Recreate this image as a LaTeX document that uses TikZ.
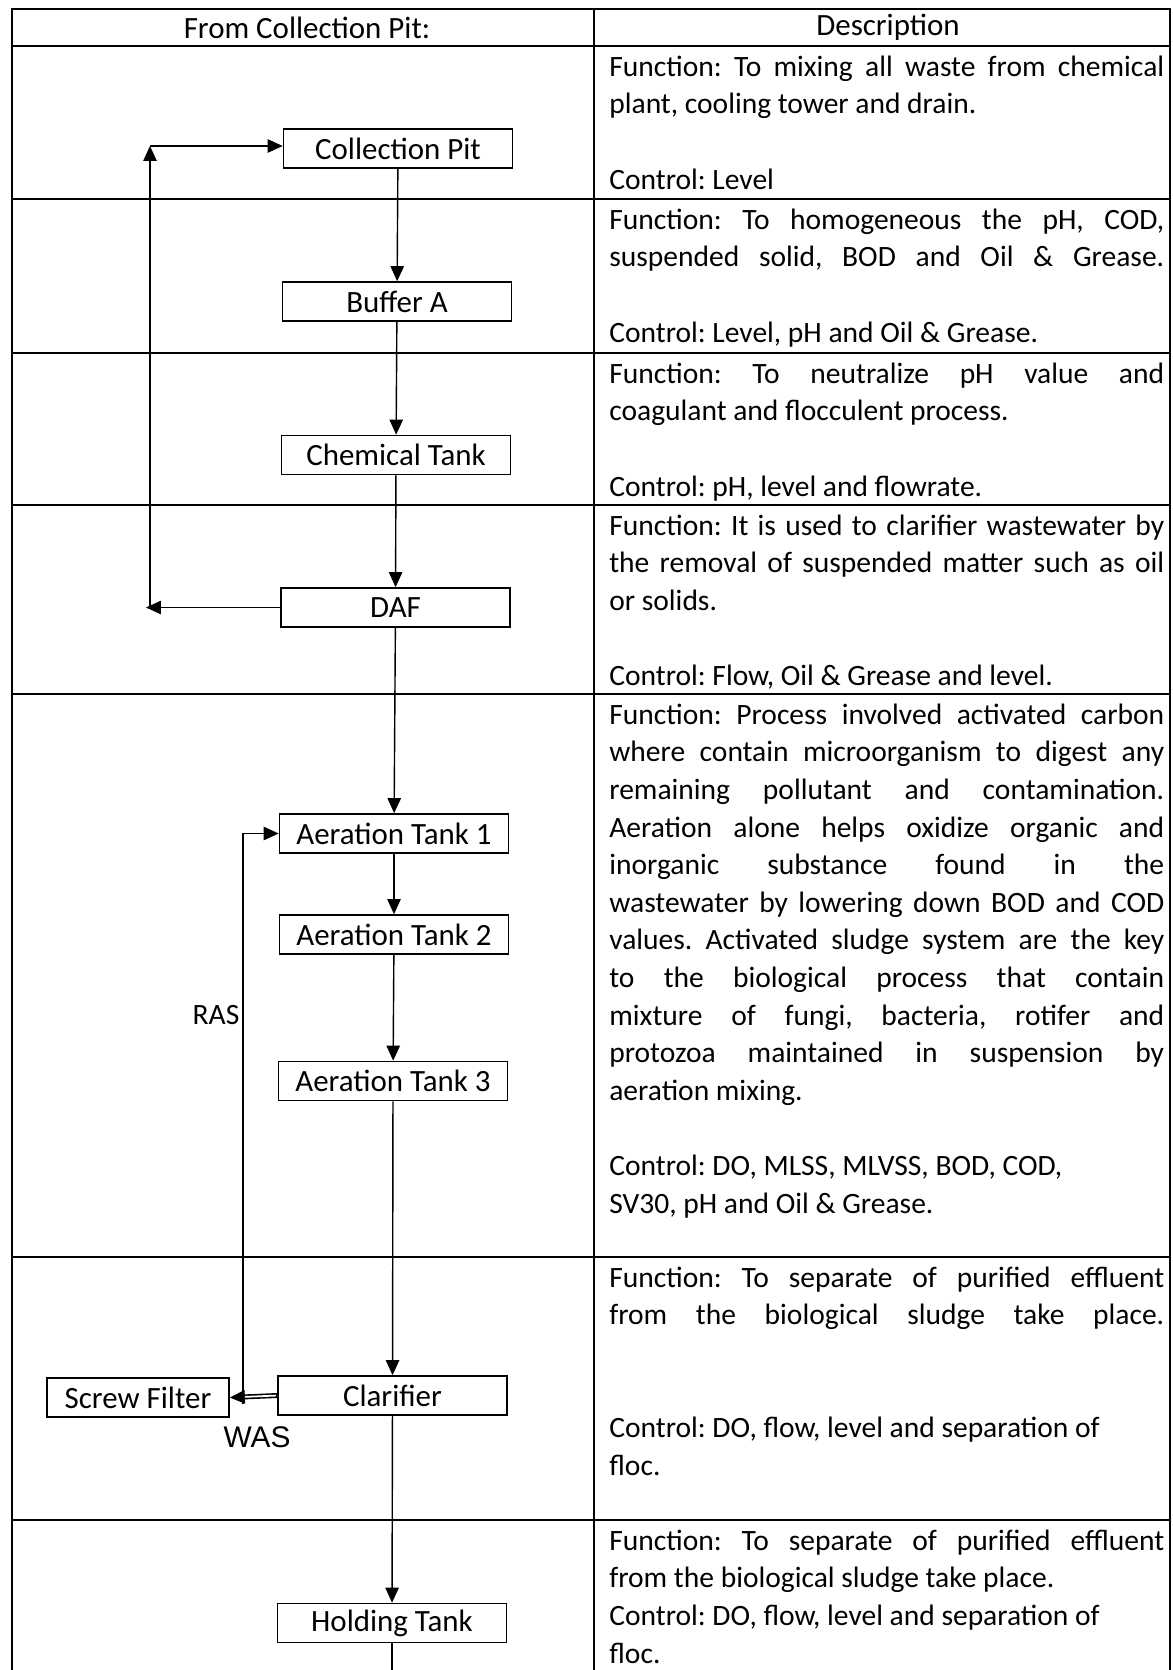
\documentclass[tikz,border=0pt]{standalone}
\usepackage{fontspec}
\setmainfont{Carlito}
\newfontfamily\wasfont{Liberation Sans}
\usetikzlibrary{arrows.meta}

\begin{document}
\begin{tikzpicture}[x=0.02cm, y=-0.02cm,
      every node/.style = {font=\fontsize{16.8pt}{21.4pt}\selectfont\frenchspacing},
      head/.style  = {font=\fontsize{17.6pt}{21.4pt}\selectfont},
      unit/.style  = {draw, line width=1pt, minimum width=4.58cm,
                      minimum height=0.78cm, inner sep=0pt,
                      font=\fontsize{17.6pt}{21.4pt}\selectfont},
      arrow/.style = {-{Triangle[length=0.3cm, width=0.27cm, line width=0.5pt]},
                      line width=0.8pt},
      wasline/.style = {-{Triangle[length=0.3cm, width=0.27cm, line width=0.5pt]},
                        line width=0.1cm},
      wasgap/.style  = {white, line width=0.035cm, shorten >=0.3cm, shorten <=0.7pt},
      grid/.style  = {line width=1pt},
      desc/.style  = {anchor=north west, inner sep=0pt, text width=11.1cm, align=justify,
                      execute at begin node={\parindent=0pt\noindent
                        \tolerance=10000\hyphenpenalty=10000\strut}}
    ]
    \useasboundingbox (0,0) rectangle (1173,1670);

    % table
    \draw[grid] (12,1670) -- (12,9) -- (1170,9) -- (1170,1670);
    \draw[grid] (594,9) -- (594,1670);
    \draw[grid] (12,46) -- (1170,46)   (12,199) -- (1170,199)
                (12,353) -- (1170,353) (12,505) -- (1170,505)
                (12,694) -- (1170,694) (12,1257) -- (1170,1257)
                (12,1520) -- (1170,1520);

    \node[head] (hleft)  at (307,27.5) {From Collection Pit:};
    \node[head] (hright) at (888,27.5) {Description};

    % process units
    \node[unit] (pit)    at (398,148.5)   {Collection Pit};
    \node[unit] (buffer) at (397,301.5)   {Buffer A};
    \node[unit] (chem)   at (396,455)     {Chemical Tank};
    \node[unit] (daf)    at (395.5,607.5) {DAF};
    \node[unit] (aer1)   at (394,833.5)   {Aeration Tank 1};
    \node[unit] (aer2)   at (394,934.5)   {Aeration Tank 2};
    \node[unit] (aer3)   at (393,1081)    {Aeration Tank 3};
    \node[unit] (clar)   at (392.5,1395.5){Clarifier};
    \node[unit, minimum width=3.64cm] (screw) at (138,1397.5) {Screw Filter};
    \node[unit] (hold)   at (392,1623)    {Holding Tank};

    \coordinate (dafret)  at (146,607.5);
    \coordinate (loopbot) at (150,607.5);
    \coordinate (looptop) at (150,146);
    \coordinate (rasbot)  at (243,1404);
    \coordinate (outlet)  at (392,1670);

    \draw[arrow] (pit)    -- (buffer);
    \draw[arrow] (buffer) -- (chem);
    \draw[arrow] (chem)   -- (daf);
    \draw[arrow] (daf)    -- (aer1);
    \draw[arrow] (aer1)   -- (aer2);
    \draw[arrow] (aer2)   -- (aer3);
    \draw[arrow] (aer3)   -- (clar);
    \draw[arrow] (clar)   -- (hold);
    \draw[line width=0.8pt] (hold) -- (outlet);

    % return from DAF
    \draw[arrow] (daf) -- (dafret);
    \draw[arrow] (loopbot) -- (looptop);
    \draw[arrow] (looptop) -- (looptop -| pit.west);

    % sludge lines
    \draw[wasline] (clar.west) -- (screw.east);
    \draw[wasgap]  (clar.west) -- (screw.east);
    \draw[arrow] (rasbot) |- (aer1.west);
    \node (ras) at (216,1015) {RAS};
    \node[font={\wasfont\fontsize{17pt}{20pt}\selectfont}] (was) at (257,1437) {WAS};

    % descriptions
    \node[desc] (dpit) at (609,49.7) {Function: To mixing all waste from chemical\linebreak
      plant, cooling tower and drain.\\[21.4pt]
      Control: Level};
    \node[desc] (dbuffer) at (609,202.7) {Function: To homogeneous the pH, COD,\linebreak
      suspended solid, BOD and Oil \& Grease.\linebreak\mbox{}\\
      Control: Level, pH and Oil \& Grease.};
    \node[desc] (dchem) at (609,356.7) {Function: To neutralize pH value and\linebreak
      coagulant and flocculent process.\\[21.4pt]
      Control: pH, level and flowrate.};
    \node[desc] (ddaf) at (609,508.7) {Function: It is used to clarifier wastewater by\linebreak
      the removal of suspended matter such as oil\linebreak
      or solids.\\[21.4pt]
      Control: Flow, Oil \& Grease and level.};
    \node[desc] (daer) at (609,697.7) {Function: Process involved activated carbon\linebreak
      where contain microorganism to digest any\linebreak
      remaining pollutant and contamination.\linebreak
      Aeration alone helps oxidize organic and\linebreak
      inorganic substance found in the\linebreak
      wastewater by lowering down BOD and COD\linebreak
      values. Activated sludge system are the key\linebreak
      to the biological process that contain\linebreak
      mixture of fungi, bacteria, rotifer and\linebreak
      protozoa maintained in suspension by\linebreak
      aeration mixing.\\[21.4pt]
      Control: DO, MLSS, MLVSS, BOD, COD,\\
      SV30, pH and Oil \& Grease.};
    \node[desc] (dclar) at (609,1260.7) {Function: To separate of purified effluent\linebreak
      from the biological sludge take place.\linebreak\mbox{}\\[21.4pt]
      Control: DO, flow, level and separation of\\
      floc.};
    \node[desc] (dhold) at (609,1523.7) {Function: To separate of purified effluent\linebreak
      from the biological sludge take place.\\
      Control: DO, flow, level and separation of\\
      floc.};
  \end{tikzpicture}
\end{document}
